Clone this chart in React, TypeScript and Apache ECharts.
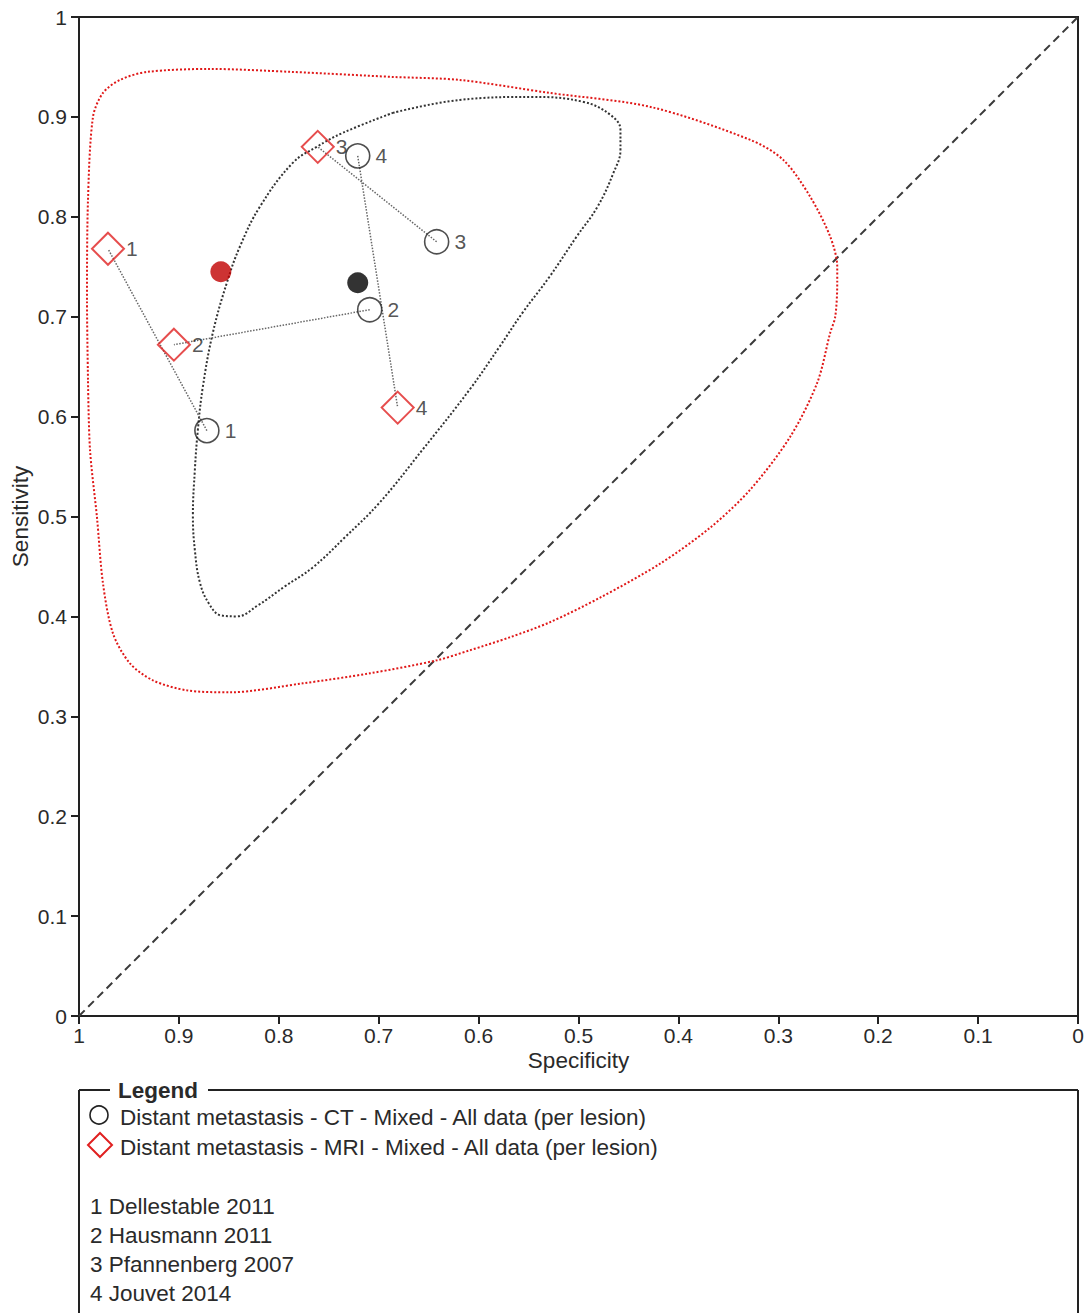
import React, { useEffect, useRef } from "react";
import * as echarts from "echarts";

const studies = ["Dellestable 2011", "Hausmann 2011", "Pfannenberg 2007", "Jouvet 2014"];
const seriesNames = [
  "Distant metastasis - CT - Mixed - All data (per lesion)",
  "Distant metastasis - MRI - Mixed - All data (per lesion)",
];

// study estimates (specificity, sensitivity)
const ctSpec = [0.872, 0.709, 0.642, 0.721];
const ctSens = [0.586, 0.707, 0.775, 0.861];
const mriSpec = [0.971, 0.905, 0.761, 0.681];
const mriSens = [0.768, 0.672, 0.870, 0.609];

// summary points
const ctSummary = [0.721, 0.734];
const mriSummary = [0.858, 0.745];

// confidence / prediction region outlines
const ctRegion: number[][] = [
  [0.686, 0.904], [0.619, 0.917], [0.546, 0.920], [0.495, 0.915], [0.468, 0.902],
  [0.458, 0.887], [0.458, 0.867], [0.465, 0.844], [0.481, 0.810], [0.502, 0.780],
  [0.529, 0.740], [0.556, 0.704], [0.579, 0.670], [0.609, 0.627], [0.656, 0.567],
  [0.699, 0.514], [0.734, 0.479], [0.766, 0.449], [0.794, 0.430], [0.821, 0.411],
  [0.842, 0.400], [0.858, 0.401], [0.870, 0.413], [0.879, 0.434], [0.884, 0.466],
  [0.886, 0.501], [0.884, 0.547], [0.881, 0.587], [0.876, 0.630], [0.866, 0.684],
  [0.852, 0.734], [0.839, 0.770], [0.819, 0.810], [0.786, 0.854], [0.762, 0.870],
  [0.736, 0.884], [0.686, 0.904],
];
const mriRegion: number[][] = [
  [0.991, 0.637], [0.992, 0.717], [0.991, 0.817], [0.986, 0.900], [0.976, 0.924],
  [0.959, 0.937], [0.932, 0.945], [0.869, 0.948], [0.786, 0.945], [0.686, 0.940],
  [0.619, 0.937], [0.529, 0.924], [0.428, 0.910], [0.328, 0.877], [0.295, 0.857],
  [0.268, 0.820], [0.248, 0.780], [0.241, 0.750], [0.241, 0.734], [0.243, 0.700],
  [0.248, 0.684], [0.261, 0.634], [0.288, 0.580], [0.328, 0.527], [0.368, 0.489],
  [0.418, 0.453], [0.478, 0.419], [0.529, 0.394], [0.569, 0.379], [0.609, 0.366],
  [0.642, 0.356], [0.709, 0.343], [0.776, 0.333], [0.849, 0.324], [0.892, 0.326],
  [0.926, 0.336], [0.949, 0.353], [0.966, 0.383], [0.976, 0.433], [0.982, 0.499],
  [0.989, 0.567], [0.991, 0.637],
];

const FONT = "Liberation Sans, Arial, sans-serif";
const TXT = "#2a2a2a";
const BIG = 22.5;

export default function App() {
  const ref = useRef<HTMLDivElement>(null);
  useEffect(() => {
    document.body.style.margin = "0";
    const chart = echarts.init(ref.current!, null, { renderer: "svg" });
    const fmt = (v: number) => String(parseFloat(v.toFixed(1)));
    const pairSeries = ctSpec.map((s, i) => ({
      type: "line",
      data: [[s, ctSens[i]], [mriSpec[i], mriSens[i]]],
      symbol: "none",
      silent: true,
      z: 2,
      lineStyle: { type: "dotted", color: "#666", width: 1.5 },
    }));
    const markerLabel = (distance: number) => ({
      show: true,
      position: "right",
      distance,
      formatter: (p: any) => String(p.dataIndex + 1),
      fontSize: 21,
      color: TXT,
      fontFamily: FONT,
    });
    const legendTop = 1090;
    const axisCommon = {
      type: "value", min: 0, max: 1, interval: 0.1,
      nameLocation: "middle",
      nameMoveOverlap: false,
      nameTextStyle: { fontSize: BIG, color: TXT, fontFamily: FONT },
      axisLine: { show: true, onZero: false, lineStyle: { color: "#222", width: 2 } },
      axisTick: { show: true, length: 8, lineStyle: { color: "#222", width: 2 } },
      splitLine: { show: false },
    };
    const option: any = {
      animation: false,
      backgroundColor: "#fff",
      textStyle: { fontFamily: FONT },
      grid: {
        left: 79, top: 17, width: 999, height: 999,
        containLabel: false, outerBoundsMode: "none",
        show: true, borderColor: "#222", borderWidth: 2, backgroundColor: "transparent",
      },
      xAxis: {
        ...axisCommon,
        inverse: true, position: "bottom",
        name: "Specificity", nameGap: 33,
        axisLabel: { fontSize: 21, color: TXT, margin: 9, formatter: fmt, fontFamily: FONT },
      },
      yAxis: {
        ...axisCommon,
        position: "left",
        name: "Sensitivity", nameGap: 47,
        axisLabel: { fontSize: 21, color: TXT, margin: 12, formatter: fmt, fontFamily: FONT },
      },
      series: [
        {
          type: "line", data: [[1, 0], [0, 1]], symbol: "none", silent: true, z: 1,
          lineStyle: { type: [8, 5], color: "#3a3a3a", width: 2 },
        },
        {
          type: "line", data: ctRegion, symbol: "none", smooth: 0.4, silent: true, z: 1,
          lineStyle: { type: "dotted", color: "#333", width: 2 },
        },
        {
          type: "line", data: mriRegion, symbol: "none", smooth: 0.3, silent: true, z: 1,
          lineStyle: { type: "dotted", color: "#e01818", width: 2 },
        },
        ...pairSeries,
        {
          name: seriesNames[0], type: "scatter", z: 4,
          data: ctSpec.map((s, i) => [s, ctSens[i]]),
          symbol: "circle", symbolSize: 24,
          itemStyle: { color: "rgba(0,0,0,0)", borderColor: "#222", borderWidth: 1.6 },
          label: markerLabel(5),
        },
        {
          name: seriesNames[1], type: "scatter", z: 3,
          data: mriSpec.map((s, i) => [s, mriSens[i]]),
          symbol: "diamond", symbolSize: 32,
          itemStyle: { color: "rgba(0,0,0,0)", borderColor: "#e02020", borderWidth: 2 },
          label: markerLabel(1),
        },
        {
          type: "scatter", z: 5, data: [ctSummary], symbol: "circle", symbolSize: 21,
          itemStyle: { color: "#000" },
        },
        {
          type: "scatter", z: 5, data: [mriSummary], symbol: "circle", symbolSize: 21,
          itemStyle: { color: "#c00000" },
        },
      ],
      graphic: [
        { type: "line", shape: { x1: 79, y1: legendTop, x2: 110, y2: legendTop }, style: { stroke: "#222", lineWidth: 2 } },
        { type: "line", shape: { x1: 208, y1: legendTop, x2: 1078, y2: legendTop }, style: { stroke: "#222", lineWidth: 2 } },
        { type: "line", shape: { x1: 79, y1: legendTop, x2: 79, y2: 1313 }, style: { stroke: "#222", lineWidth: 2 } },
        { type: "line", shape: { x1: 1078, y1: legendTop, x2: 1078, y2: 1313 }, style: { stroke: "#222", lineWidth: 2 } },
        {
          type: "text", x: 118, y: legendTop,
          style: { text: "Legend", fontSize: BIG, fontWeight: "bold", fill: TXT, fontFamily: FONT, verticalAlign: "middle" },
        },
        { type: "circle", shape: { cx: 99, cy: 1115, r: 9 }, style: { fill: "none", stroke: "#222", lineWidth: 1.6 } },
        {
          type: "polygon",
          shape: { points: [[100, 1133], [112, 1145], [100, 1157], [88, 1145]] },
          style: { fill: "none", stroke: "#e02020", lineWidth: 2 },
        },
        ...seriesNames.map((n, i) => ({
          type: "text", x: 120, y: 1117 + i * 30,
          style: { text: n, fontSize: BIG, fill: TXT, fontFamily: FONT, verticalAlign: "middle" },
        })),
        ...studies.map((n, i) => ({
          type: "text", x: 90, y: 1206 + i * 29.3,
          style: { text: `${i + 1} ${n}`, fontSize: BIG, fill: TXT, fontFamily: FONT, verticalAlign: "middle" },
        })),
      ],
    };
    chart.setOption(option);
    return () => chart.dispose();
  }, []);
  return <div ref={ref} style={{ width: 1089, height: 1313 }} />;
}
